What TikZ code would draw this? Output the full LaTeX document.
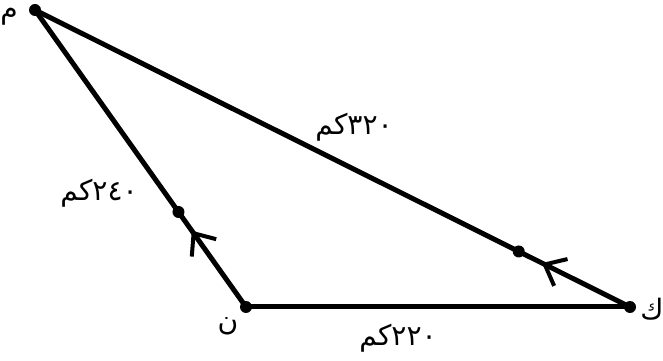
\documentclass[tikz,border=0pt]{standalone}
\usepackage{fontspec}
\newfontfamily\arabicfont[Script=Arabic]{DejaVu Sans}
\TeXXeTstate=1
\usetikzlibrary{arrows.meta,decorations.markings}

\begin{document}
\begin{tikzpicture}[
        x=0.02cm, y=-0.02cm,
        side/.style={line width=0.1cm},
        dot/.style={circle, fill, inner sep=0pt, minimum size=0.24cm},
        lbl/.style={font=\arabicfont\fontsize{16}{18}\selectfont},
        dir/.style={postaction={decorate}, decoration={markings,
            mark=at position #1 with {\arrow{Straight Barb[length=0.36cm, width=0.6cm, line width=0.08cm]}}}}
    ]
        \useasboundingbox (0,0) rectangle (663,361);
        \coordinate (m) at (35,10);
        \coordinate (n) at (246,307);
        \coordinate (k) at (630,307);

        \draw[side] (m) -- (k);
        \draw[side] (n) -- (k);
        \draw[side] (n) -- (m);
        \path[dir=0.257] (n) -- (m) node[dot, pos=0.32] (dnm) {};
        \path[dir=0.148] (k) -- (m) node[dot, pos=0.187] (dkm) {};

        \node[dot] (pm) at (m) {};
        \node[dot] (pn) at (n) {};
        \node[dot] (pk) at (k) {};

        \node[lbl] (lm) at (9,17)   {\beginR م\endR};
        \node[lbl] (ln) at (228,326) {\beginR ن\endR};
        \node[lbl] (lk) at (652,309) {\beginR ك\endR};
        \node[lbl] (dmk) at (354,127) {\beginR ٣٢٠كم\endR};
        \node[lbl] (dmn) at (99,193)  {\beginR ٢٤٠كم\endR};
        \node[lbl] (dnk) at (398,338) {\beginR ٢٢٠كم\endR};
    \end{tikzpicture}
\end{document}
